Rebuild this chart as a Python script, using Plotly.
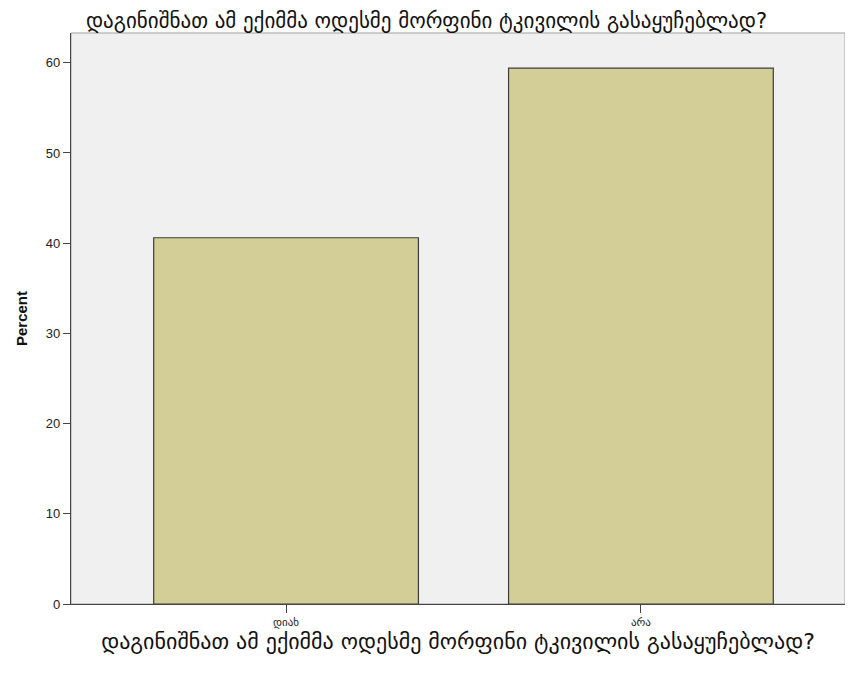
import plotly.graph_objects as go

QUESTION = "დაგინიშნათ ამ ექიმმა ოდესმე მორფინი ტკივილის გასაყუჩებლად?"
categories = ["დიახ", "არა"]
percent = [40.6, 59.4]
y_ticks = [0, 10, 20, 30, 40, 50, 60]

_BAR = "#D3CE97"
_EDGE = "#3C3C3C"
_FONT = "DejaVu Sans, Arial, sans-serif"
_ARIAL = "Arial, Liberation Sans, sans-serif"

W, H = 837, 659  # page body has an 8px margin, so the figure is sized/offset to compensate

fig = go.Figure(go.Bar(
    x=categories,
    y=percent,
    width=0.746,
    marker=dict(color=_BAR, line=dict(color=_EDGE, width=1.2)),
    hovertemplate="%{x}<br>%{y:.1f}%<extra></extra>",
))

# light frame around the plot area (top / right)
fig.add_shape(
    type="rect", xref="paper", yref="paper", x0=0, y0=0, x1=1, y1=1,
    line=dict(color="#A0A0A0", width=1), layer="below",
)

fig.update_layout(
    width=W, height=H,
    paper_bgcolor="white",
    plot_bgcolor="#F0F0F0",
    margin=dict(t=25, b=63, l=63, r=0),
    showlegend=False,
    font=dict(family=_FONT, color="#222"),
    title=dict(
        text=QUESTION, x=0.5, xanchor="center",
        yref="container", y=1 - 13 / H, yanchor="middle",
        font=dict(family=_FONT, size=21, color="#111"),
    ),
    xaxis=dict(
        range=[-0.606, 1.575],
        showline=True, linecolor="#444", linewidth=1.2,
        ticks="outside", ticklen=8, tickcolor="#444",
        tickfont=dict(family=_FONT, size=11, color="#222"),
        showgrid=False, zeroline=False, automargin=False,
        title=dict(text=QUESTION, font=dict(family=_FONT, size=22, color="#111"), standoff=5),
    ),
    yaxis=dict(
        range=[0, 63.3],
        tickvals=y_ticks,
        showline=True, linecolor="#444", linewidth=1.2,
        ticks="outside", ticklen=7, tickcolor="#444",
        tickfont=dict(family=_ARIAL, size=13, color="#222"),
        showgrid=False, zeroline=False, automargin=False,
        title=dict(text="<b>Percent</b>", font=dict(family=_ARIAL, size=15, color="#111"), standoff=14),
    ),
)

fig.write_html("out.html")
